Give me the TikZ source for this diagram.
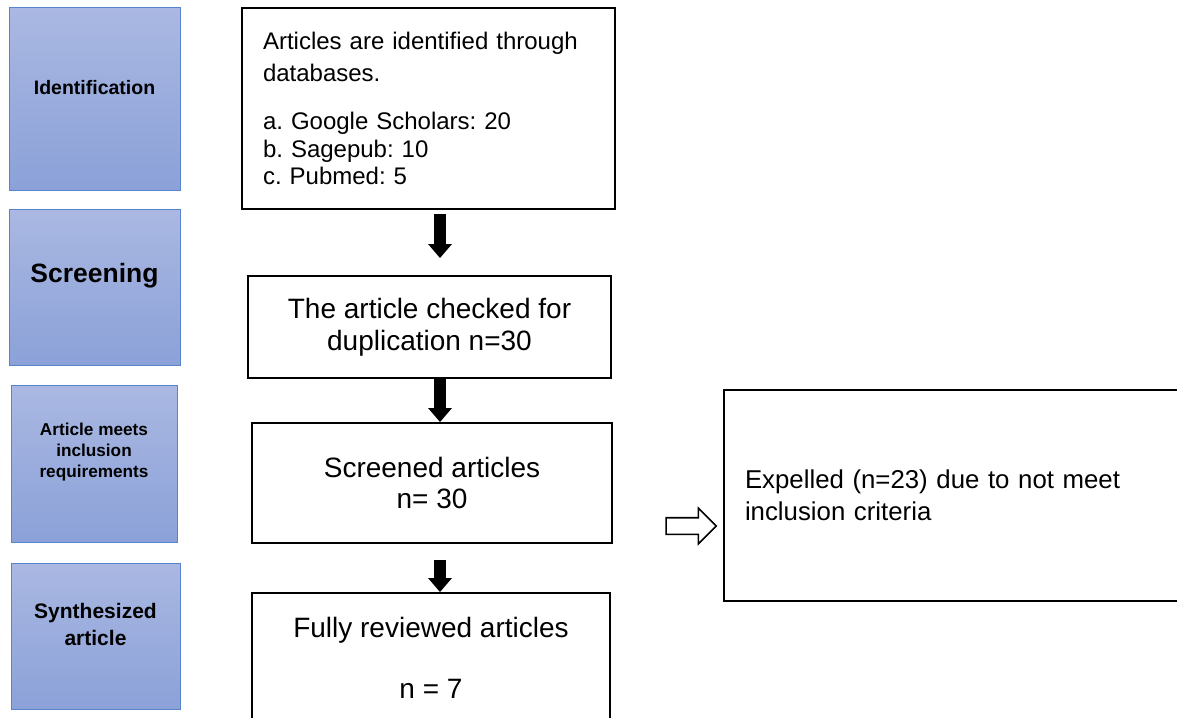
\documentclass[tikz,border=0pt]{standalone}
\usepackage{fontspec}
\setmainfont{Liberation Sans}
\usetikzlibrary{positioning,arrows.meta,shapes.arrows,calc}
\definecolor{stagetop}{RGB}{170,184,226}
\definecolor{stagebot}{RGB}{139,161,216}
\definecolor{stageline}{RGB}{88,132,206}
\tikzset{
  every picture/.style={line width=0.6pt},
  stage/.style={draw=stageline,line width=1pt,rectangle,top color=stagetop,bottom color=stagebot,inner sep=0},
  stxt/.style={align=center,inner sep=0},
  blk/.style={draw,rectangle,line width=2pt,inner sep=0,align=center},
  flow/.style={line width=12pt,-{Triangle[length=14pt,width=24pt,line width=0pt]}},
  outarr/.style={draw,line width=1.6pt,single arrow,fill=white,minimum height=50pt,minimum width=34pt,
    single arrow head extend=9.5pt,single arrow head indent=0pt,inner xsep=0,inner ysep=7.5pt},
}

\begin{document}
\frenchspacing
\begin{tikzpicture}[x=1pt,y=-1pt]
\useasboundingbox (0,0) rectangle (1177,717);
\clip (0,0) rectangle (1177,717);
% stage labels on the left
\node[stage,minimum width=171,minimum height=182] (id) at (94.5,99) {};
\node[stxt,font=\fontsize{19.5}{23}\selectfont\bfseries] (idt) at ([yshift=11]id.center) {Identification};
\node[stage,minimum width=171,minimum height=156] (sc) at (94.5,287) {};
\node[stxt,font=\fontsize{26.5}{30}\selectfont\bfseries] (sct) at ([yshift=11]sc.center) {Screening};
\node[stage,minimum width=166,minimum height=157] (inc) at (94,463.5) {};
\node[stxt,font=\fontsize{17.2}{21}\selectfont\bfseries] (inct) at ([yshift=11.5]inc.center) {Article meets\\inclusion\\requirements};
\node[stage,minimum width=169,minimum height=146] (syn) at (95.5,636) {};
\node[stxt,font=\fontsize{21}{27}\selectfont\bfseries] (synt) at ([yshift=12]syn.center) {Synthesized\\article};
% flow boxes
\node[blk,text width=331,inner xsep=21,minimum height=201,align=left,font=\fontsize{24}{27.5}\selectfont] (db) at (428.5,108.5)
  {Articles are identified through\\[4.5pt]databases.\\[20.5pt]a. Google Scholars: 20\\b. Sagepub: 10\\c. Pubmed: 5};
\node[blk,minimum width=363,minimum height=102,font=\fontsize{28}{32}\selectfont] (dup) at (429.5,327)
  {The article checked for\\duplication n=30};
\node[blk,minimum width=360,minimum height=120,font=\fontsize{28}{31}\selectfont] (scr) at (432,483)
  {Screened articles\\n= 30};
\node[blk,minimum width=358,minimum height=129,font=\fontsize{28}{30.5}\selectfont] (full) at (431,657.5)
  {Fully reviewed articles\\[30.5pt]n = 7};
% excluded
\node[blk,anchor=west,text width=440,inner xsep=21,minimum height=211,align=left,font=\fontsize{25.8}{32}\selectfont] (exp) at (723,495.5)
  {Expelled (n=23) due to not meet\\inclusion criteria};
\node[outarr] (out) at (687,526) {};
% arrows
\coordinate (ax) at (440,0);
\draw[flow,shorten <=4pt,shorten >=17pt] (db.south -| ax) -- (dup.north -| ax);
\draw[flow] (dup.south -| ax) -- (scr.north -| ax);
\draw[flow,shorten <=16pt] (scr.south -| ax) -- (full.north -| ax);
\end{tikzpicture}
\end{document}
